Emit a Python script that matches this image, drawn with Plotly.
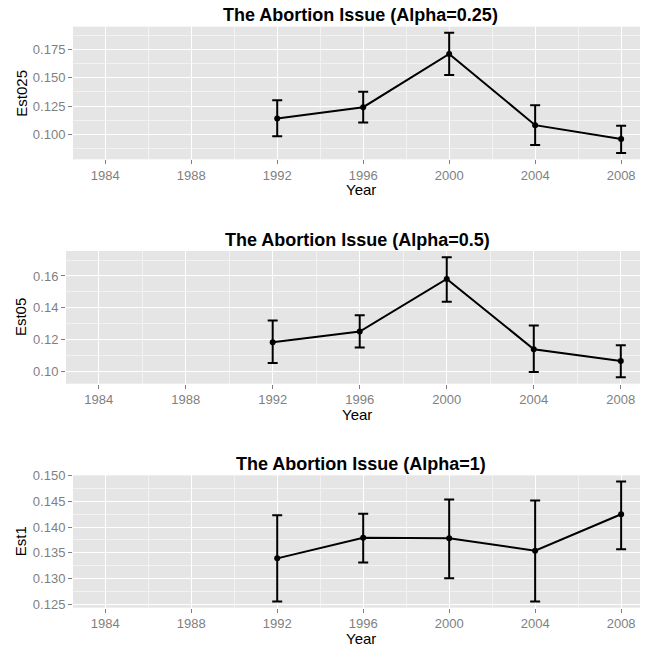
import plotly.graph_objects as go

# ---- data ----
years = [1992, 1996, 2000, 2004, 2008]
x_ticks = [1984, 1988, 1992, 1996, 2000, 2004, 2008]

est025 = [0.1141, 0.1241, 0.1710, 0.1083, 0.0962]
lo025 = [0.0986, 0.1106, 0.1525, 0.0909, 0.0839]
hi025 = [0.1303, 0.1376, 0.1895, 0.1259, 0.1079]

est05 = [0.1183, 0.1250, 0.1581, 0.1139, 0.1065]
lo05 = [0.1052, 0.1150, 0.1438, 0.0996, 0.0962]
hi05 = [0.1320, 0.1353, 0.1718, 0.1288, 0.1164]

est1 = [0.1339, 0.1379, 0.1378, 0.1354, 0.1425]
lo1 = [0.1255, 0.1331, 0.1300, 0.1255, 0.1357]
hi1 = [0.1423, 0.1426, 0.1454, 0.1452, 0.1489]

titles = ["The Abortion Issue (Alpha=0.25)", "The Abortion Issue (Alpha=0.5)",
          "The Abortion Issue (Alpha=1)"]
ylabels = ["Est025", "Est05", "Est1"]

# The page body has an 8px default margin; the figure is sized to fill the
# 648px window after that offset.
OFF = 8
W = H = 648 - OFF
FONT = "Liberation Sans, Arial, Helvetica, sans-serif"


def px_x(v):
    return (v - OFF) / W


def px_y(v):
    return 1 - (v - OFF) / H


panels = [
    dict(est=est025, lo=lo025, hi=hi025, left=73, top=26.7, bottom=159.3,
         yrange=[0.0783, 0.1949], ytick=[0.100, 0.125, 0.150, 0.175], fmt=".3f", minor=0.0125),
    dict(est=est05, lo=lo05, hi=hi05, left=66, top=251, bottom=383.7,
         yrange=[0.0922, 0.1757], ytick=[0.10, 0.12, 0.14, 0.16], fmt=".2f", minor=0.01),
    dict(est=est1, lo=lo1, hi=hi1, left=73, top=475.3, bottom=607.7,
         yrange=[0.12428, 0.1501], ytick=[0.125, 0.130, 0.135, 0.140, 0.145, 0.150], fmt=".3f", minor=0.0025),
]

fig = go.Figure()
annotations = []
layout = {}
for i, p in enumerate(panels):
    n = "" if i == 0 else str(i + 1)
    xa, ya = "x" + n, "y" + n
    fig.add_trace(go.Scatter(
        x=years, y=p["est"], xaxis=xa, yaxis=ya, mode="lines+markers",
        line=dict(color="black", width=2),
        marker=dict(color="black", size=6),
        error_y=dict(type="data", symmetric=False,
                     array=[h - e for h, e in zip(p["hi"], p["est"])],
                     arrayminus=[e - l for e, l in zip(p["est"], p["lo"])],
                     color="black", thickness=2, width=5),
        showlegend=False, cliponaxis=False))
    common = dict(showgrid=True, gridcolor="white", gridwidth=1.3, zeroline=False,
                  ticks="outside", ticklen=4, tickwidth=1, tickcolor="#7F7F7F",
                  tickfont=dict(family=FONT, size=13, color="#7F7F7F"),
                  showline=False, automargin=False)
    layout["xaxis" + n] = dict(
        common, domain=[px_x(p["left"]), 1], range=[1982.5, 2009.25],
        tickvals=x_ticks, ticktext=[str(v) for v in x_ticks], anchor=ya,
        minor=dict(dtick=2, tick0=1984, showgrid=True, gridcolor="#F2F2F2", gridwidth=0.7, ticks=""))
    layout["yaxis" + n] = dict(
        common, domain=[px_y(p["bottom"]), px_y(p["top"])], range=p["yrange"],
        tickvals=p["ytick"], ticktext=[format(v, p["fmt"]) for v in p["ytick"]], anchor=xa,
        minor=dict(dtick=p["minor"], tick0=p["ytick"][0], showgrid=True,
                   gridcolor="#F2F2F2", gridwidth=0.7, ticks=""))
    cx = px_x((p["left"] + 648) / 2)
    annotations.append(dict(text="<b>" + titles[i] + "</b>", x=cx, y=px_y(p["top"] - 11.5),
                            xref="paper", yref="paper", xanchor="center", yanchor="middle",
                            showarrow=False, font=dict(family=FONT, size=18, color="black")))
    annotations.append(dict(text="Year", x=cx, y=px_y(p["bottom"] + 30.5),
                            xref="paper", yref="paper", xanchor="center", yanchor="middle",
                            showarrow=False, font=dict(family=FONT, size=15, color="black")))
    annotations.append(dict(text=ylabels[i], x=px_x(20.7), y=px_y((p["top"] + p["bottom"]) / 2),
                            xref="paper", yref="paper", xanchor="center", yanchor="middle",
                            textangle=-90,
                            showarrow=False, font=dict(family=FONT, size=15, color="black")))

fig.update_layout(
    width=W, height=H, margin=dict(l=0, r=0, t=0, b=0, pad=0),
    paper_bgcolor="white", plot_bgcolor="#E5E5E5",
    annotations=annotations, **layout)

fig.write_html("out.html")
